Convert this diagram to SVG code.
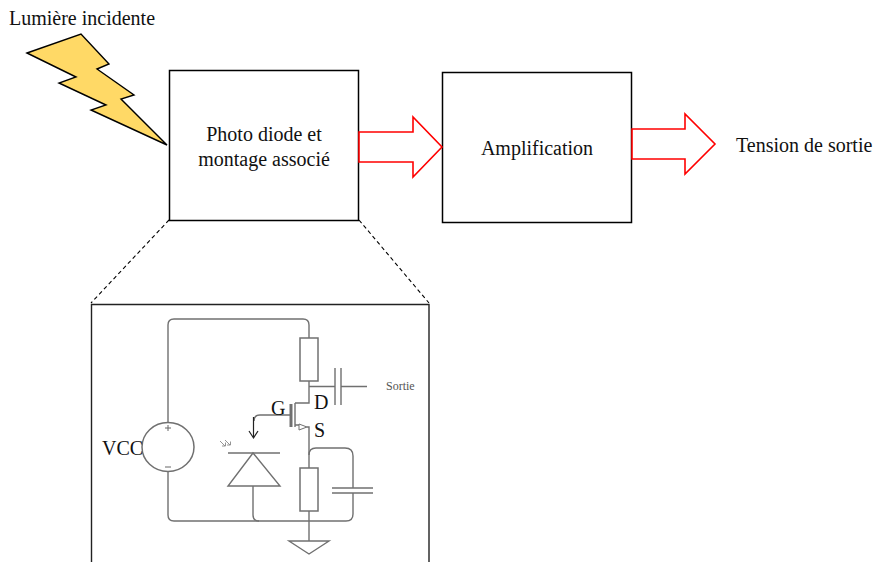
<svg xmlns="http://www.w3.org/2000/svg" width="873" height="562" viewBox="0 0 873 562">
<style>
text{font-family:"Liberation Serif","Times New Roman",serif;fill:#111}
.t{font-size:20px}
.b{fill:#fff;stroke:#000;stroke-width:1.5}
.r{fill:#fff;stroke:#f00;stroke-width:1.6}
.w{fill:none;stroke:#707070;stroke-width:1.4}
.p{fill:#fff;stroke:#707070;stroke-width:1.5}
.k{fill:none;stroke:#222;stroke-width:1.2}
</style>
<rect width="873" height="562" fill="#fff"/>
<g id="light">
<path d="M27 53L81 34L109 64L97 69L134 95L121 99L167 145L91 110L106 105L59 83L76 77Z" fill="#ffd966" stroke="#000" stroke-width="1.4"/>
<text class="t" x="9" y="25">Lumière incidente</text>
</g>
<g id="photodiode">
<rect class="b" x="169.500" y="70.500" width="189" height="150"/>
<text class="t" x="264" y="141" text-anchor="middle">Photo diode et</text>
<text class="t" x="264" y="166" text-anchor="middle">montage associé</text>
</g>
<g id="amplification">
<rect class="b" x="442.500" y="72.500" width="189" height="150"/>
<text class="t" x="537" y="155" text-anchor="middle">Amplification</text>
</g>
<g id="output"><text class="t" x="736" y="152">Tension de sortie</text></g>
<g id="circuit">
<path d="M91.500 562V304.500H429V562" fill="#fff" stroke="#222" stroke-width="1.4"/>
<path class="w" d="M168 423V325Q168 319 174 319H303Q309 319 309 325V338"/>
<path class="w" d="M168 472V515Q168 521 174 521H346Q353 521 353 514V493M353 488V456Q353 448 345 448H316Q309 448 309 455"/>
<path class="w" d="M309 381V403H295M309 386.500H335M341 386.500H367M291 415H260Q254 415 254 421"/>
<path class="w" d="M295 403V427M295 425H301M307 427H309V468M309 511V541M253 486V515Q253 521 259 521"/>
<path d="M291 404V427" stroke="#707070" stroke-width="3" fill="none"/>
<path d="M299 424L307 427L299 430Z" fill="#fff" stroke="#707070"/>
<path class="w" d="M335 368V405M341 368V405M332 488H373M332 493H373M228 453H280"/>
<path class="w" d="M253 453L228 486H280Z"/>
<rect class="p" x="300" y="338" width="18" height="43"/>
<rect class="p" x="300" y="468" width="18" height="43"/>
<path class="w" d="M289 541H329L309 554Z"/>
<ellipse class="p" cx="168" cy="447" rx="26" ry="24.500"/>
<path d="M165 428H171M168 425V431M165 467H171" stroke="#666" fill="none"/>
<path class="k" d="M253.500 417V438M249 431L253.500 438L258 431"/>
<path d="M220 441L225 446M225 440L230 445M222 446H225.500V442.500M227 445H230.500V441.500" fill="none" stroke="#888" stroke-width=".9"/>
<text x="102" y="455" style="font-size:20px">VCC</text>
<text x="271" y="415" style="font-size:20px">G</text>
<text x="314" y="409" style="font-size:20px">D</text>
<text x="314" y="437" style="font-size:20px">S</text>
<text x="386" y="390" style="font-size:12px;fill:#555">Sortie</text>
</g>
<g id="connectors">
<path d="M169 220L91 303M359 220L429 303" fill="none" stroke="#000" stroke-width="1.1" stroke-dasharray="4 3"/>
<path class="r" d="M359 132H413V117L442 147L413 177V162H359Z"/>
<path class="r" d="M632 129H685V114L715 144L685 174V159H632Z"/>
</g>
</svg>
